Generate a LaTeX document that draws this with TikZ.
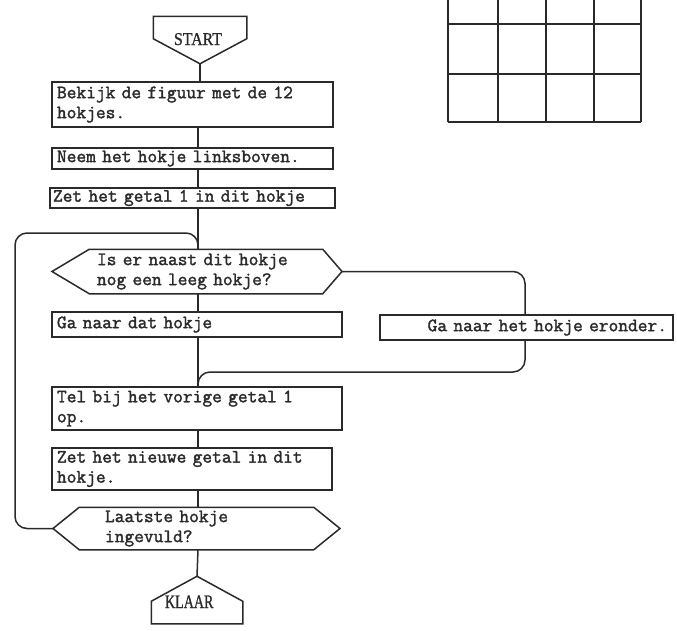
\documentclass[tikz,border=0pt]{standalone}
\usepackage{fontspec}
\newfontfamily\tw{Latin Modern Mono}[FakeBold=1.8]
\newfontfamily\srA{Liberation Serif}[FakeStretch=0.88,FakeBold=1]
\newfontfamily\srB{Liberation Serif}[FakeStretch=0.74,FakeBold=1]
\usetikzlibrary{calc}
\definecolor{ink}{HTML}{2A2A2A}
\newcommand\twfont{\tw\fontsize{18.9}{20}\selectfont\spaceskip=0.525em\relax}
\begin{document}
\begin{tikzpicture}[x=1pt,y=-1pt,line width=1.5pt,ink,
  box/.style={draw=ink,fill=white,rectangle,inner ysep=0pt,inner xsep=5pt,align=left,
    font=\twfont,text=ink},
  dec/.style={rectangle,inner ysep=0pt,align=left,font=\twfont,text=ink},
  term/.style={rectangle,inner ysep=0pt,align=left,text=ink},
  link/.style={draw=ink,line width=1.5pt},
  loop/.style={draw=ink,line width=1.5pt,rounded corners=12pt},
  grid/.style={draw=ink,line width=1.5pt}]
\useasboundingbox (0,0) rectangle (677,630);
\coordinate (sp) at (198,0);

% grid of hokjes
\foreach \x in {448,498,546,594,641} \draw[grid] (\x,0) -- (\x,122);
\foreach \y in {24,74,122} \draw[grid] (448,\y) -- (641,\y);

% START
\node[term,minimum width=92pt,minimum height=46pt,inner xsep=20pt,text width=52pt,
  text height=10pt,text depth=0pt,
  font=\srA\fontsize{18}{20}\selectfont] (st) at (200,40) {START};
\draw[link] (st.north west) -- (st.north east) -- ([yshift=25pt]st.south east)
  -- (st.south) -- ([yshift=25pt]st.south west) -- cycle;

% boxes
\node[box,minimum width=281pt,text width=271pt,minimum height=45pt] (b1) at (192.5,104.5)
  {Bekijk de figuur met de 12\\hokjes.};
\node[box,minimum width=281pt,text width=271pt,minimum height=21pt] (b2) at (192.5,158.5)
  {Neem het hokje linksboven.};
\node[box,minimum width=285pt,inner xsep=3pt,text width=279pt,minimum height=20pt] (b3) at (192.5,198)
  {Zet het getal 1 in dit hokje};

% decision 1
\node[dec,minimum width=232pt,inner xsep=7pt,text width=218pt,minimum height=43pt] (d1) at (206,271.5)
  {Is er naast dit hokje\\nog een leeg hokje?};
\coordinate (d1l) at (52,271.5);
\coordinate (d1r) at (342,271.5);
\draw[link] (d1.north west) -- (d1.north east) -- (d1r) -- (d1.south east)
  -- (d1.south west) -- (d1l) -- cycle;

\node[box,minimum width=290pt,text width=280pt,minimum height=25pt] (b4) at (197,324.5)
  {Ga naar dat hokje};

% right branch
\draw[loop] (d1r) -- (525,271.5) -- (525,372) -- (198,372) -- (sp |- 0,387);
\node[box,minimum width=293pt,inner xsep=6pt,text width=281pt,align=right,minimum height=25pt] (b5) at (526.5,327.5)
  {Ga naar het hokje eronder.};

\node[box,minimum width=290pt,text width=280pt,minimum height=43pt] (b6) at (197,408.5)
  {Tel bij het vorige getal 1\\op.};
\node[box,minimum width=280pt,text width=270pt,minimum height=42pt] (b7) at (192,469)
  {Zet het nieuwe getal in dit\\hokje.};

% decision 2
\node[dec,minimum width=233pt,inner xsep=25pt,text width=183pt,minimum height=41pt] (d2) at (196.5,528.5)
  {Laatste hokje\\ingevuld?};
\coordinate (d2l) at (53,528.5);
\coordinate (d2r) at (340,528.5);
\draw[link] (d2.north west) -- (d2.north east) -- (d2r) -- (d2.south east)
  -- (d2.south west) -- (d2l) -- cycle;

% KLAAR
\node[term,minimum width=90pt,minimum height=46pt,inner xsep=13pt,text width=64pt,
  text height=16pt,text depth=0pt,
  font=\srB\fontsize{19}{20}\selectfont] (kl) at (197,600) {KLAAR};
\draw[link] (kl.south west) -- ([yshift=-25pt]kl.north west) -- (kl.north)
  -- ([yshift=-25pt]kl.north east) -- (kl.south east) -- cycle;

% main line
\draw[link] (st.south) -- (st.south |- b1.north);
\draw[link] (sp |- b1.south) -- (sp |- b2.north);
\draw[link] (sp |- b2.south) -- (sp |- b3.north);
\draw[link] (sp |- b3.south) -- (sp |- d1.north);
\draw[link] (sp |- d1.south) -- (sp |- b4.north);
\draw[link] (sp |- b4.south) -- (sp |- b6.north);
\draw[link] (sp |- b6.south) -- (sp |- b7.north);
\draw[link] (sp |- b7.south) -- (sp |- d2.north);
\draw[link] (sp |- d2.south) -- (kl.north);

% loop back
\draw[loop] (d2l) -- (15,528.5) -- (15,233) -- (198,233) -- (sp |- d1.north);
\end{tikzpicture}
\end{document}
